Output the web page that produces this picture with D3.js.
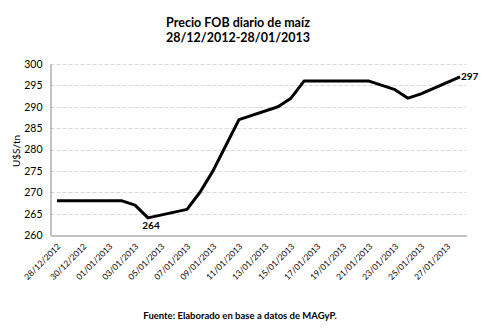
<!DOCTYPE html>
<html>
<head>
<meta charset="utf-8">
<script src="https://cdn.jsdelivr.net/npm/d3@7"></script>
<style>
  html, body { margin: 0; padding: 0; background: #fff; }
  svg { display: block; }
  text { font-family: Lato, "Liberation Sans", sans-serif; fill: #000; }
</style>
</head>
<body>
<svg id="chart" width="488" height="332"></svg>
<script>
// Daily FOB corn price (US$/tn), trading days only
const dates = ["28/12/2012","31/12/2012","02/01/2013","03/01/2013","04/01/2013",
  "07/01/2013","08/01/2013","09/01/2013","10/01/2013","11/01/2013",
  "14/01/2013","15/01/2013","16/01/2013","17/01/2013","18/01/2013",
  "21/01/2013","22/01/2013","23/01/2013","24/01/2013","25/01/2013","28/01/2013"];
const prices = [268,268,268,267,264, 266,270,275,281,287, 290,292,296,296,296, 296,295,294,292,293,297];

const xTickLabels = ["28/12/2012","30/12/2012","01/01/2013","03/01/2013","05/01/2013",
  "07/01/2013","09/01/2013","11/01/2013","13/01/2013","15/01/2013","17/01/2013",
  "19/01/2013","21/01/2013","23/01/2013","25/01/2013","27/01/2013"];
const yTicks = [260,265,270,275,280,285,290,295,300];
const labelledDates = ["04/01/2013","28/01/2013"];

const parse = d3.timeParse("%d/%m/%Y");
const svg = d3.select("#chart");

const plot = { left: 50.5, right: 466.5, top: 64, bottom: 235 };
const first = parse(dates[0]), last = parse(dates[dates.length - 1]);
const x = d3.scaleTime()
  .domain([d3.timeHour.offset(first, -12), d3.timeHour.offset(last, 12)])
  .range([plot.left, plot.right]);
const y = d3.scaleLinear().domain([260, 300]).range([plot.bottom, plot.top]);

// title
const title = svg.append("text").attr("text-anchor", "middle")
  .style("font-weight", "bold").style("font-size", "12.5px");
title.append("tspan").attr("x", 238).attr("y", 27).text("Precio FOB diario de maíz");
title.append("tspan").attr("x", 238).attr("y", 42).text("28/12/2012-28/01/2013");

// horizontal gridlines
svg.append("g").selectAll("line").data(yTicks.filter(v => v > 260)).join("line")
  .attr("x1", plot.left).attr("x2", plot.right)
  .attr("y1", d => Math.round(y(d)) + 0.5).attr("y2", d => Math.round(y(d)) + 0.5)
  .attr("stroke", "#d9d9d9").attr("stroke-width", 1).attr("stroke-dasharray", "4,2");

// y axis
const yAxis = svg.append("g").attr("transform", `translate(${plot.left},0)`)
  .call(d3.axisLeft(y).tickValues(yTicks).tickSize(0).tickPadding(8));
yAxis.select(".domain").attr("stroke", "#868686");
yAxis.selectAll("text").style("font-size", "10.5px").style("font-family", "Lato, sans-serif");

// x axis
const xAxis = svg.append("g").attr("transform", `translate(0,${plot.bottom + 0.5})`)
  .call(d3.axisBottom(x).tickValues(xTickLabels.map(parse)).tickSize(0).tickFormat(""));
xAxis.select(".domain").attr("stroke", "#868686");

svg.append("g").selectAll("text").data(xTickLabels).join("text")
  .attr("transform", d => `translate(${x(parse(d)) + 2},${plot.bottom + 10}) rotate(-45)`)
  .attr("text-anchor", "end")
  .attr("dy", "0.35em")
  .style("font-size", "8.5px")
  .text(d => d);

// y axis title
svg.append("text")
  .attr("transform", "translate(20,151) rotate(-90)")
  .attr("text-anchor", "middle")
  .style("font-size", "10px")
  .text("U$S/tn");

// price line
const pts = dates.map((d, i) => ({ date: parse(d), key: d, value: prices[i] }));
svg.append("path").datum(pts)
  .attr("fill", "none").attr("stroke", "#000").attr("stroke-width", 3)
  .attr("stroke-linejoin", "round")
  .attr("d", d3.line().x(d => x(d.date)).y(d => y(d.value)));

// value labels
const lab = pts.filter(p => labelledDates.includes(p.key));
svg.append("g").selectAll("text").data(lab).join("text")
  .attr("x", (d, i) => i === 0 ? x(d.date) + 3 : x(d.date) + 1)
  .attr("y", (d, i) => i === 0 ? y(d.value) + 11 : y(d.value) + 3)
  .attr("text-anchor", (d, i) => i === 0 ? "middle" : "start")
  .style("font-weight", "bold").style("font-size", "10px")
  .text(d => d.value);

// source note
svg.append("text").attr("x", 240).attr("y", 319).attr("text-anchor", "middle")
  .style("font-weight", "bold").style("font-size", "9.5px")
  .text("Fuente: Elaborado en base a datos de MAGyP.");
</script>
</body>
</html>
